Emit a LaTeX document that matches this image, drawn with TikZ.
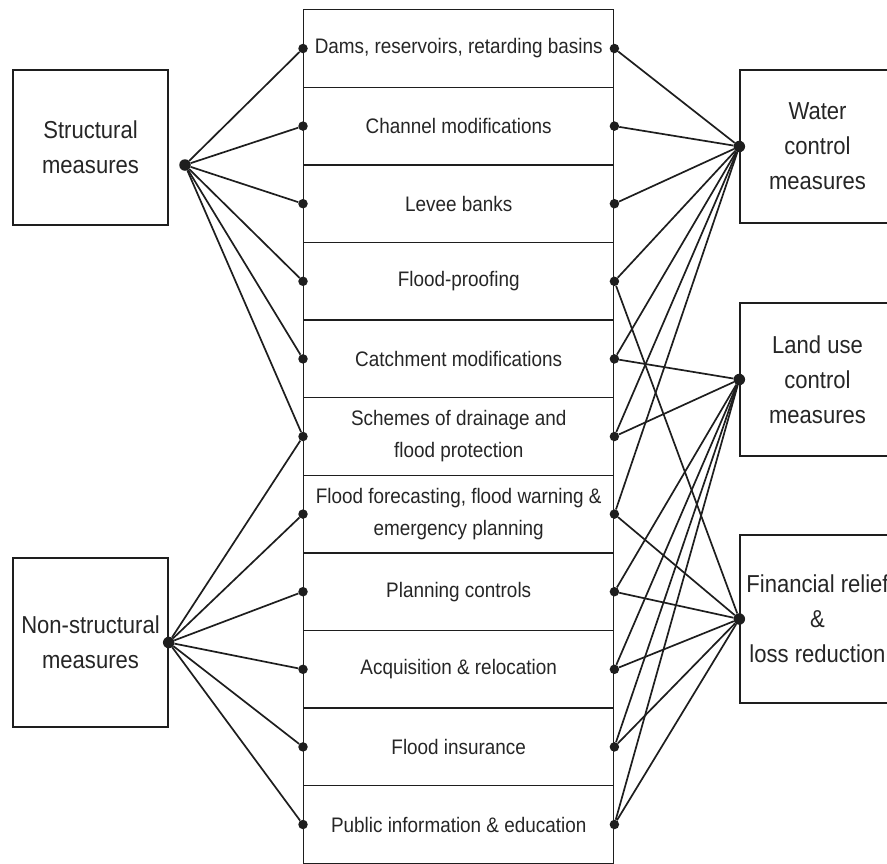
\documentclass[tikz,border=0pt]{standalone}
\usepackage{fontspec}
\setmainfont{Liberation Sans}[FakeStretch=0.9]
\definecolor{linecol}{HTML}{1E1E1E}
\definecolor{textcol}{HTML}{262626}
\begin{document}
\begin{tikzpicture}[x=1pt,y=-1pt,
  rowbox/.style={draw=linecol, line width=1.4pt, minimum width=310pt, minimum height=77.6pt,
    inner sep=0pt, align=center, text=textcol, anchor=north west,
    font=\fontsize{21}{32}\selectfont},
  sidebox/.style={draw=linecol, line width=1.4pt, minimum width=155pt, inner sep=0pt,
    align=center, text=textcol, font=\fontsize{24.5}{35}\selectfont},
  dot/.style={circle, fill=linecol, inner sep=0pt, minimum size=9.5pt},
  hub/.style={circle, fill=linecol, inner sep=0pt, minimum size=11.5pt},
  link/.style={draw=linecol, line width=1.7pt}
]
\useasboundingbox (0,0) rectangle (887,863);
\clip (0,0) rectangle (887,863);
\fill[white] (0,0) rectangle (887,863);

% central column of measures
\node[rowbox] (r1)  at (303,9)     {Dams, reservoirs, retarding basins};
\node[rowbox] (r2)  at (303,86.6)  {Channel modifications};
\node[rowbox] (r3)  at (303,164.2) {Levee banks};
\node[rowbox] (r4)  at (303,241.8) {Flood-proofing};
\node[rowbox] (r5)  at (303,319.4) {Catchment modifications};
\node[rowbox] (r6)  at (303,397)   {Schemes of drainage and\\flood protection};
\node[rowbox] (r7)  at (303,474.6) {Flood forecasting, flood warning \&\\emergency planning};
\node[rowbox] (r8)  at (303,552.2) {Planning controls};
\node[rowbox] (r9)  at (303,629.8) {Acquisition \& relocation};
\node[rowbox] (r10) at (303,707.4) {Flood insurance};
\node[rowbox] (r11) at (303,785)   {Public information \& education};

% category boxes
\node[sidebox, minimum height=155pt] (str) at (90.5,147.5) {Structural\\measures};
\node[sidebox, minimum height=169pt] (non) at (90.5,642.5) {Non-structural\\measures};
\node[sidebox, minimum height=153pt] (wat) at (817.5,146.5) {Water\\control\\measures};
\node[sidebox, minimum height=153pt] (lan) at (817.5,379.5) {Land use\\control\\measures};
\node[sidebox, minimum height=168pt] (fin) at (817.5,619) {Financial relief\\\&\\loss reduction};

% hubs
\node[hub] (shub) at (185,165) {};
\node[hub] (nhub) at (non.east) {};
\node[hub] (whub) at (wat.west) {};
\node[hub] (lhub) at (lan.west) {};
\node[hub] (fhub) at (fin.west) {};

% terminals on both sides of each measure
\foreach \i in {1,...,11} {
  \node[dot] (l\i) at (r\i.west) {};
  \node[dot] (e\i) at (r\i.east) {};
}

% links
\foreach \i in {1,...,6}  \draw[link] (shub) -- (l\i);
\foreach \i in {6,...,11} \draw[link] (nhub) -- (l\i);
\foreach \i in {1,...,7}  \draw[link] (whub) -- (e\i);
\foreach \i in {5,6,8,9,10,11} \draw[link] (lhub) -- (e\i);
\foreach \i in {4,7,8,9,10,11} \draw[link] (fhub) -- (e\i);
\end{tikzpicture}
\end{document}
